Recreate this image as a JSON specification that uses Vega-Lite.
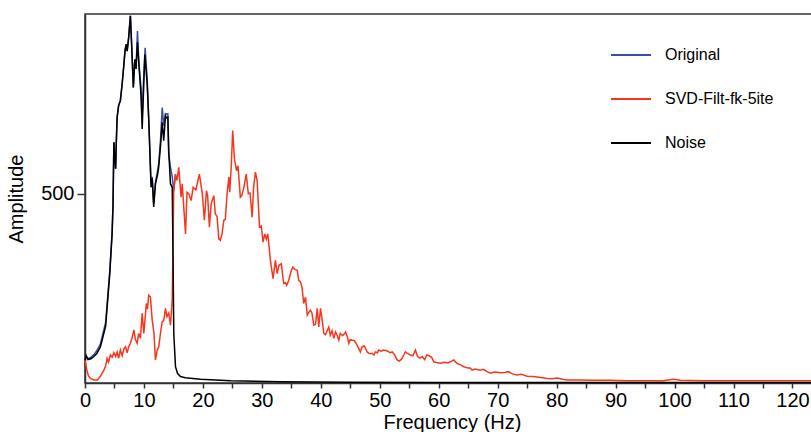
{
  "$schema": "https://vega.github.io/schema/vega-lite/v6.json",
  "width": 734,
  "height": 369,
  "autosize": {"type": "none"},
  "padding": {"left": 85, "top": 14, "right": 0, "bottom": 49},
  "background": "white",
  "config": {
    "font": "Liberation Sans",
    "view": {"stroke": "#333", "strokeWidth": 1.5},
    "axis": {
      "domainColor": "#333", "domainWidth": 1.5, "tickColor": "#333", "tickWidth": 1.5,
      "grid": false, "labelFontSize": 20, "labelColor": "black", "titleFontSize": 20,
      "titleFontWeight": "normal", "titleColor": "black", "labelFont": "Liberation Sans", "titleFont": "Liberation Sans"
    },
    "legend": {
      "orient": "none", "legendX": 525, "legendY": 20, "symbolType": "stroke", "symbolSize": 1600,
      "symbolStrokeWidth": 2, "labelFontSize": 16, "labelOffset": 13, "rowPadding": 15, "padding": 0,
      "labelColor": "black", "labelFont": "Liberation Sans"
    }
  },
  "datasets": {
    "orig": [
      {"f":0,"a":62},{"f":0.2,"a":72},{"f":0.5,"a":64},{"f":1.0,"a":68},{"f":1.5,"a":75},{"f":2.0,"a":85},{"f":2.6,"a":103},{"f":2.9,"a":122},{"f":3.5,"a":160},{"f":3.85,"a":228},{"f":4.2,"a":295},{"f":4.6,"a":400},{"f":4.75,"a":470},{"f":4.9,"a":636},{"f":5.05,"a":590},{"f":5.2,"a":566},{"f":5.3,"a":632},{"f":5.45,"a":702},{"f":5.7,"a":733},{"f":6.0,"a":746},{"f":6.3,"a":790},{"f":6.6,"a":842},{"f":6.8,"a":880},{"f":7.0,"a":895},{"f":7.15,"a":877},{"f":7.4,"a":912},{"f":7.7,"a":970},{"f":7.95,"a":880},{"f":8.2,"a":781},{"f":8.45,"a":855},{"f":8.65,"a":830},{"f":8.9,"a":930},{"f":9.1,"a":860},{"f":9.3,"a":815},{"f":9.5,"a":780},{"f":9.7,"a":700},{"f":9.9,"a":790},{"f":10.2,"a":886},{"f":10.35,"a":850},{"f":10.55,"a":800},{"f":10.8,"a":700},{"f":11.0,"a":614},{"f":11.2,"a":530},{"f":11.4,"a":545},{"f":11.65,"a":475},{"f":11.95,"a":530},{"f":12.3,"a":560},{"f":12.5,"a":580},{"f":12.8,"a":640},{"f":13.1,"a":728},{"f":13.35,"a":680},{"f":13.65,"a":712},{"f":13.9,"a":710},{"f":14.05,"a":711},{"f":14.2,"a":605},{"f":14.5,"a":570},{"f":14.8,"a":545},{"f":15.05,"a":508},{"f":15.35,"a":552}
    ],
    "svd": [
      {"f":0,"a":61},{"f":0.3,"a":35},{"f":0.6,"a":18},{"f":0.93,"a":12},{"f":1.5,"a":8},{"f":2.1,"a":8},{"f":2.6,"a":17},{"f":3.2,"a":34},{"f":3.5,"a":45},{"f":3.75,"a":65},{"f":4.0,"a":55},{"f":4.3,"a":74},{"f":4.6,"a":68},{"f":4.9,"a":80},{"f":5.2,"a":70},{"f":5.45,"a":82},{"f":5.7,"a":65},{"f":6.0,"a":87},{"f":6.3,"a":72},{"f":6.6,"a":90},{"f":6.9,"a":96},{"f":7.15,"a":80},{"f":7.4,"a":95},{"f":7.7,"a":105},{"f":8.0,"a":120},{"f":8.3,"a":140},{"f":8.55,"a":115},{"f":8.85,"a":105},{"f":9.1,"a":131},{"f":9.4,"a":118},{"f":9.7,"a":184},{"f":9.97,"a":131},{"f":10.2,"a":170},{"f":10.4,"a":210},{"f":10.6,"a":195},{"f":10.8,"a":232},{"f":11.1,"a":227},{"f":11.4,"a":166},{"f":11.7,"a":131},{"f":11.95,"a":61},{"f":12.25,"a":87},{"f":12.5,"a":95},{"f":12.8,"a":131},{"f":13.1,"a":162},{"f":13.35,"a":165},{"f":13.65,"a":197},{"f":13.9,"a":175},{"f":14.2,"a":185},{"f":14.5,"a":153},{"f":14.8,"a":219},{"f":14.95,"a":394},{"f":15.05,"a":508},{"f":15.35,"a":552},{"f":15.6,"a":535},{"f":15.9,"a":570},{"f":16.3,"a":491},{"f":16.5,"a":526},{"f":16.75,"a":465},{"f":17.05,"a":394},{"f":17.3,"a":504},{"f":17.6,"a":500},{"f":18.0,"a":482},{"f":18.35,"a":517},{"f":18.8,"a":510},{"f":19.4,"a":552},{"f":19.9,"a":500},{"f":20.25,"a":430},{"f":20.6,"a":508},{"f":20.8,"a":495},{"f":21.1,"a":412},{"f":21.4,"a":474},{"f":21.85,"a":495},{"f":22.1,"a":447},{"f":22.4,"a":440},{"f":22.7,"a":381},{"f":22.95,"a":377},{"f":23.25,"a":394},{"f":23.55,"a":430},{"f":23.8,"a":432},{"f":24.1,"a":500},{"f":24.4,"a":544},{"f":24.55,"a":504},{"f":24.8,"a":570},{"f":25.05,"a":667},{"f":25.35,"a":592},{"f":25.7,"a":561},{"f":25.95,"a":574},{"f":26.35,"a":491},{"f":26.6,"a":495},{"f":26.95,"a":517},{"f":27.35,"a":552},{"f":27.7,"a":500},{"f":28.0,"a":502},{"f":28.35,"a":438},{"f":28.6,"a":517},{"f":28.9,"a":557},{"f":29.2,"a":535},{"f":29.6,"a":412},{"f":29.9,"a":415},{"f":30.2,"a":372},{"f":30.5,"a":394},{"f":30.75,"a":380},{"f":31.0,"a":394},{"f":31.45,"a":324},{"f":31.9,"a":276},{"f":32.3,"a":324},{"f":32.6,"a":289},{"f":32.9,"a":311},{"f":33.3,"a":315},{"f":33.7,"a":263},{"f":34.0,"a":265},{"f":34.2,"a":258},{"f":34.55,"a":271},{"f":35.0,"a":298},{"f":35.25,"a":306},{"f":35.6,"a":300},{"f":36.0,"a":298},{"f":36.25,"a":271},{"f":36.55,"a":267},{"f":36.8,"a":254},{"f":37.1,"a":210},{"f":37.4,"a":227},{"f":37.7,"a":179},{"f":38.0,"a":188},{"f":38.25,"a":192},{"f":38.5,"a":185},{"f":38.8,"a":153},{"f":39.1,"a":155},{"f":39.4,"a":197},{"f":39.65,"a":148},{"f":39.95,"a":197},{"f":40.2,"a":170},{"f":40.5,"a":131},{"f":40.8,"a":128},{"f":41.35,"a":148},{"f":41.6,"a":126},{"f":41.9,"a":138},{"f":42.2,"a":118},{"f":42.5,"a":135},{"f":42.8,"a":125},{"f":43.05,"a":113},{"f":43.3,"a":131},{"f":43.7,"a":125},{"f":44.0,"a":130},{"f":44.2,"a":135},{"f":44.5,"a":122},{"f":44.75,"a":105},{"f":45.0,"a":115},{"f":45.3,"a":113},{"f":45.7,"a":112},{"f":46.15,"a":100},{"f":46.4,"a":92},{"f":46.7,"a":82},{"f":47.0,"a":96},{"f":47.4,"a":98},{"f":47.85,"a":82},{"f":48.2,"a":78},{"f":48.7,"a":78},{"f":49.0,"a":74},{"f":49.25,"a":82},{"f":49.6,"a":80},{"f":49.8,"a":87},{"f":50.2,"a":84},{"f":50.65,"a":87},{"f":51.0,"a":86},{"f":51.4,"a":84},{"f":51.7,"a":80},{"f":52.1,"a":82},{"f":52.5,"a":75},{"f":52.95,"a":61},{"f":53.3,"a":58},{"f":53.7,"a":63},{"f":54.0,"a":72},{"f":54.35,"a":82},{"f":54.7,"a":78},{"f":55.2,"a":74},{"f":55.6,"a":72},{"f":56.05,"a":87},{"f":56.4,"a":70},{"f":56.8,"a":66},{"f":57.2,"a":70},{"f":57.6,"a":62},{"f":58.0,"a":74},{"f":58.4,"a":72},{"f":58.8,"a":68},{"f":59.15,"a":56},{"f":59.6,"a":54},{"f":60.3,"a":52},{"f":60.9,"a":55},{"f":61.5,"a":53},{"f":62.0,"a":56},{"f":62.55,"a":61},{"f":63.1,"a":52},{"f":63.7,"a":48},{"f":64.25,"a":43},{"f":64.8,"a":40},{"f":65.4,"a":39},{"f":65.65,"a":34},{"f":66.2,"a":37},{"f":67.0,"a":34},{"f":67.6,"a":36},{"f":68.2,"a":30},{"f":68.8,"a":26},{"f":69.5,"a":29},{"f":70.5,"a":27},{"f":71.2,"a":28},{"f":71.8,"a":30},{"f":72.5,"a":24},{"f":73.3,"a":21},{"f":74.0,"a":23},{"f":75.0,"a":18},{"f":76.0,"a":17},{"f":77.0,"a":15},{"f":78.4,"a":12},{"f":79.2,"a":11},{"f":80.1,"a":13},{"f":81.0,"a":10},{"f":81.8,"a":8},{"f":84,"a":8},{"f":86,"a":7},{"f":89.1,"a":7},{"f":92,"a":6},{"f":95,"a":6},{"f":98,"a":6},{"f":99.8,"a":10},{"f":101,"a":7},{"f":105,"a":6},{"f":108.9,"a":6},{"f":115,"a":6},{"f":124.5,"a":6}
    ],
    "noise": [
      {"f":0,"a":60},{"f":0.2,"a":72},{"f":0.5,"a":62},{"f":1.0,"a":64},{"f":1.5,"a":70},{"f":2.0,"a":78},{"f":2.6,"a":95},{"f":2.9,"a":113},{"f":3.5,"a":150},{"f":3.85,"a":219},{"f":4.2,"a":289},{"f":4.6,"a":394},{"f":4.75,"a":470},{"f":4.9,"a":636},{"f":5.05,"a":590},{"f":5.2,"a":566},{"f":5.3,"a":632},{"f":5.45,"a":702},{"f":5.7,"a":733},{"f":6.0,"a":746},{"f":6.3,"a":790},{"f":6.6,"a":842},{"f":6.8,"a":880},{"f":7.0,"a":895},{"f":7.15,"a":877},{"f":7.4,"a":912},{"f":7.7,"a":970},{"f":7.95,"a":880},{"f":8.2,"a":781},{"f":8.45,"a":855},{"f":8.65,"a":830},{"f":8.9,"a":900},{"f":9.1,"a":850},{"f":9.3,"a":807},{"f":9.5,"a":760},{"f":9.7,"a":671},{"f":9.9,"a":760},{"f":10.15,"a":868},{"f":10.35,"a":830},{"f":10.55,"a":790},{"f":10.8,"a":700},{"f":11.0,"a":614},{"f":11.2,"a":517},{"f":11.4,"a":540},{"f":11.65,"a":465},{"f":11.95,"a":526},{"f":12.3,"a":550},{"f":12.5,"a":570},{"f":12.8,"a":625},{"f":13.1,"a":689},{"f":13.35,"a":640},{"f":13.65,"a":706},{"f":13.9,"a":700},{"f":14.05,"a":702},{"f":14.2,"a":614},{"f":14.5,"a":526},{"f":14.8,"a":517},{"f":14.95,"a":306},{"f":15.06,"a":131},{"f":15.35,"a":43},{"f":15.7,"a":25},{"f":16.2,"a":17},{"f":17,"a":14},{"f":19.6,"a":10},{"f":24.7,"a":6},{"f":33.2,"a":3.5},{"f":44.5,"a":2},{"f":60,"a":1.5},{"f":80,"a":1.2},{"f":100,"a":1},{"f":124.5,"a":1}
    ]
  },
  "encoding": {
    "x": {
      "field": "f", "type": "quantitative",
      "scale": {"domain": [0, 124.5], "nice": false, "zero": false},
      "axis": {
        "title": "Frequency (Hz)",
        "values": [0,5,10,15,20,25,30,35,40,45,50,55,60,65,70,75,80,85,90,95,100,105,110,115,120],
        "labelExpr": "datum.value % 10 === 0 ? datum.label : ''",
        "tickSize": 5, "labelPadding": 2, "titlePadding": 2, "labelFlush": false, "labelOverlap": false
      }
    },
    "y": {
      "field": "a", "type": "quantitative",
      "scale": {"domain": [0, 975], "nice": false},
      "axis": {"title": "Amplitude", "values": [500], "tickSize": 8, "labelPadding": 3, "titlePadding": 14}
    }
  },
  "layer": [
    {
      "data": {"name": "orig"},
      "mark": {"type": "line", "strokeWidth": 1.5},
      "encoding": {"color": {"datum": "Original", "type": "nominal",
        "scale": {"domain": ["Original", "SVD-Filt-fk-5ite", "Noise"], "range": ["#3b4da6", "#f5371f", "#000000"]},
        "legend": {"title": null}}}
    },
    {
      "data": {"name": "svd"},
      "mark": {"type": "line", "strokeWidth": 1.5},
      "encoding": {"color": {"datum": "SVD-Filt-fk-5ite", "type": "nominal"}}
    },
    {
      "data": {"name": "noise"},
      "mark": {"type": "line", "strokeWidth": 1.5},
      "encoding": {"color": {"datum": "Noise", "type": "nominal"}}
    }
  ]
}
